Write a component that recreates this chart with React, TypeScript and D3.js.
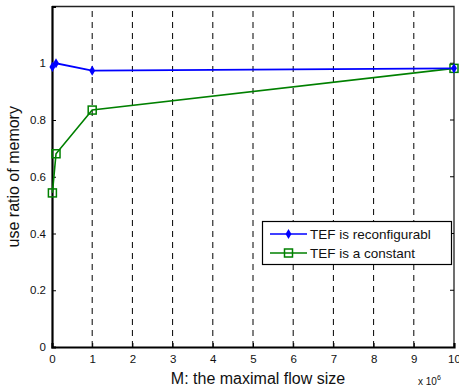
import React, { useEffect, useRef } from 'react'
import * as d3 from 'd3'

// values (x in units of 10^6)
const flowSizes = [0.01, 0.1, 1, 10]
const reconfigurable = [0.987, 1.0, 0.974, 0.982]
const constant = [0.543, 0.681, 0.835, 0.982]
const xTicks = [0, 1, 2, 3, 4, 5, 6, 7, 8, 9, 10]
const yTicks = [0, 0.2, 0.4, 0.6, 0.8, 1]
const seriesNames = ['TEF is reconfigurabl', 'TEF is a constant']

export default function App() {
    const ref = useRef<SVGSVGElement>(null)
    const W = 459
    const H = 387
    const margin = { top: 6.5, right: 5, bottom: 40, left: 52 }

    useEffect(() => {
        draw()
    }, [])

    const draw = () => {
        const root = d3.select(ref.current)
        root.selectAll('*').remove()
        const font = 'Liberation Sans, Arial, sans-serif'

        const x = d3.scaleLinear().domain([0, 10]).range([margin.left, W - margin.right])
        const y = d3.scaleLinear().domain([0, 1.2]).range([H - margin.bottom, margin.top])

        // vertical dashed grid
        root.append('g')
            .selectAll('line')
            .data(xTicks.slice(1, -1))
            .join('line')
            .attr('x1', d => x(d)).attr('x2', d => x(d))
            .attr('y1', y(0)).attr('y2', y(1.2))
            .attr('stroke', '#000')
            .attr('stroke-width', 1)
            .attr('stroke-dasharray', '6,5')

        // box top/right
        root.append('path')
            .attr('d', `M${x(0)},${y(1.2)}H${x(10)}V${y(0)}`)
            .attr('fill', 'none').attr('stroke', '#222').attr('stroke-width', 1.3)

        // x axis
        const xAxis = root.append('g')
            .attr('transform', `translate(0,${y(0)})`)
            .call(d3.axisBottom(x).tickValues(xTicks).tickSize(-4).tickPadding(8).tickFormat(d3.format('d')))
        xAxis.select('.domain').attr('stroke-width', 2.2)
        xAxis.selectAll('text').attr('font-family', font).attr('font-size', 11.5).attr('fill', '#111')

        const yAxis = root.append('g')
            .attr('transform', `translate(${x(0)},0)`)
            .call(d3.axisLeft(y).tickValues(yTicks).tickSize(-4).tickPadding(6).tickFormat(d => String(d)))
        yAxis.select('.domain').attr('stroke-width', 2.2)
        yAxis.selectAll('text').attr('font-family', font).attr('font-size', 11.5).attr('fill', '#111')

        // ticks on right edge too
        root.append('g').selectAll('line').data(yTicks.slice(1)).join('line')
            .attr('x1', x(10)).attr('x2', x(10) - 4)
            .attr('y1', d => y(d)).attr('y2', d => y(d))
            .attr('stroke', '#000')

        const line = d3.line<number>()
            .x((d, i) => x(flowSizes[i]))
            .y(d => y(d))

        // green series
        root.append('path').datum(constant)
            .attr('d', line).attr('fill', 'none').attr('stroke', '#008000').attr('stroke-width', 1.6)
        root.append('g').selectAll('rect').data(constant).join('rect')
            .attr('x', (d, i) => x(flowSizes[i]) - 4).attr('y', d => y(d) - 4)
            .attr('width', 8).attr('height', 8)
            .attr('fill', 'none').attr('stroke', '#008000').attr('stroke-width', 1.5)

        // blue series
        root.append('path').datum(reconfigurable)
            .attr('d', line).attr('fill', 'none').attr('stroke', '#0000ff').attr('stroke-width', 1.8)
        root.append('g').selectAll('path').data(reconfigurable).join('path')
            .attr('d', d3.symbol(d3.symbolDiamond, 30))
            .attr('transform', (d, i) => `translate(${x(flowSizes[i])},${y(d)})`)
            .attr('fill', '#0000ff')

        // legend
        const lg = root.append('g')
        lg.append('rect')
            .attr('x', 262.5).attr('y', 221.5).attr('width', 189).attr('height', 43)
            .attr('fill', '#fff').attr('stroke', '#000').attr('stroke-width', 1.2)
        const colors = ['#0000ff', '#008000']
        seriesNames.forEach((name, i) => {
            const ly = 234 + i * 19
            lg.append('line').attr('x1', 270).attr('x2', 307).attr('y1', ly).attr('y2', ly)
                .attr('stroke', colors[i]).attr('stroke-width', 1.6)
            if (i === 0) {
                lg.append('path').attr('d', d3.symbol(d3.symbolDiamond, 30))
                    .attr('transform', `translate(288.5,${ly})`).attr('fill', colors[i])
            } else {
                lg.append('rect').attr('x', 284.5).attr('y', ly - 4).attr('width', 8).attr('height', 8)
                    .attr('fill', 'none').attr('stroke', colors[i]).attr('stroke-width', 1.5)
            }
            lg.append('text').attr('x', 310).attr('y', ly).attr('dy', '0.35em')
                .attr('font-family', font).attr('font-size', 13.5).attr('fill', '#111').text(name)
        })

        // axis titles
        root.append('text')
            .attr('transform', `translate(19,${(y(0) + y(1.2)) / 2}) rotate(-90)`)
            .attr('text-anchor', 'middle')
            .attr('font-family', font).attr('font-size', 16).attr('fill', '#111')
            .text('use ratio of memory')
        root.append('text')
            .attr('x', 258).attr('y', 384)
            .attr('text-anchor', 'middle')
            .attr('font-family', font).attr('font-size', 16).attr('fill', '#111')
            .text('M: the maximal flow size')
        const ex = root.append('text')
            .attr('x', 418).attr('y', 385)
            .attr('font-family', font).attr('font-size', 10).attr('fill', '#111')
        ex.append('tspan').text('x 10')
        ex.append('tspan').attr('font-size', 7).attr('dy', -5).text('6')
    }

    return (
        <svg ref={ref} width={W} height={H} style={{ position: 'absolute', left: 0, top: 0 }}></svg>
    )
}
